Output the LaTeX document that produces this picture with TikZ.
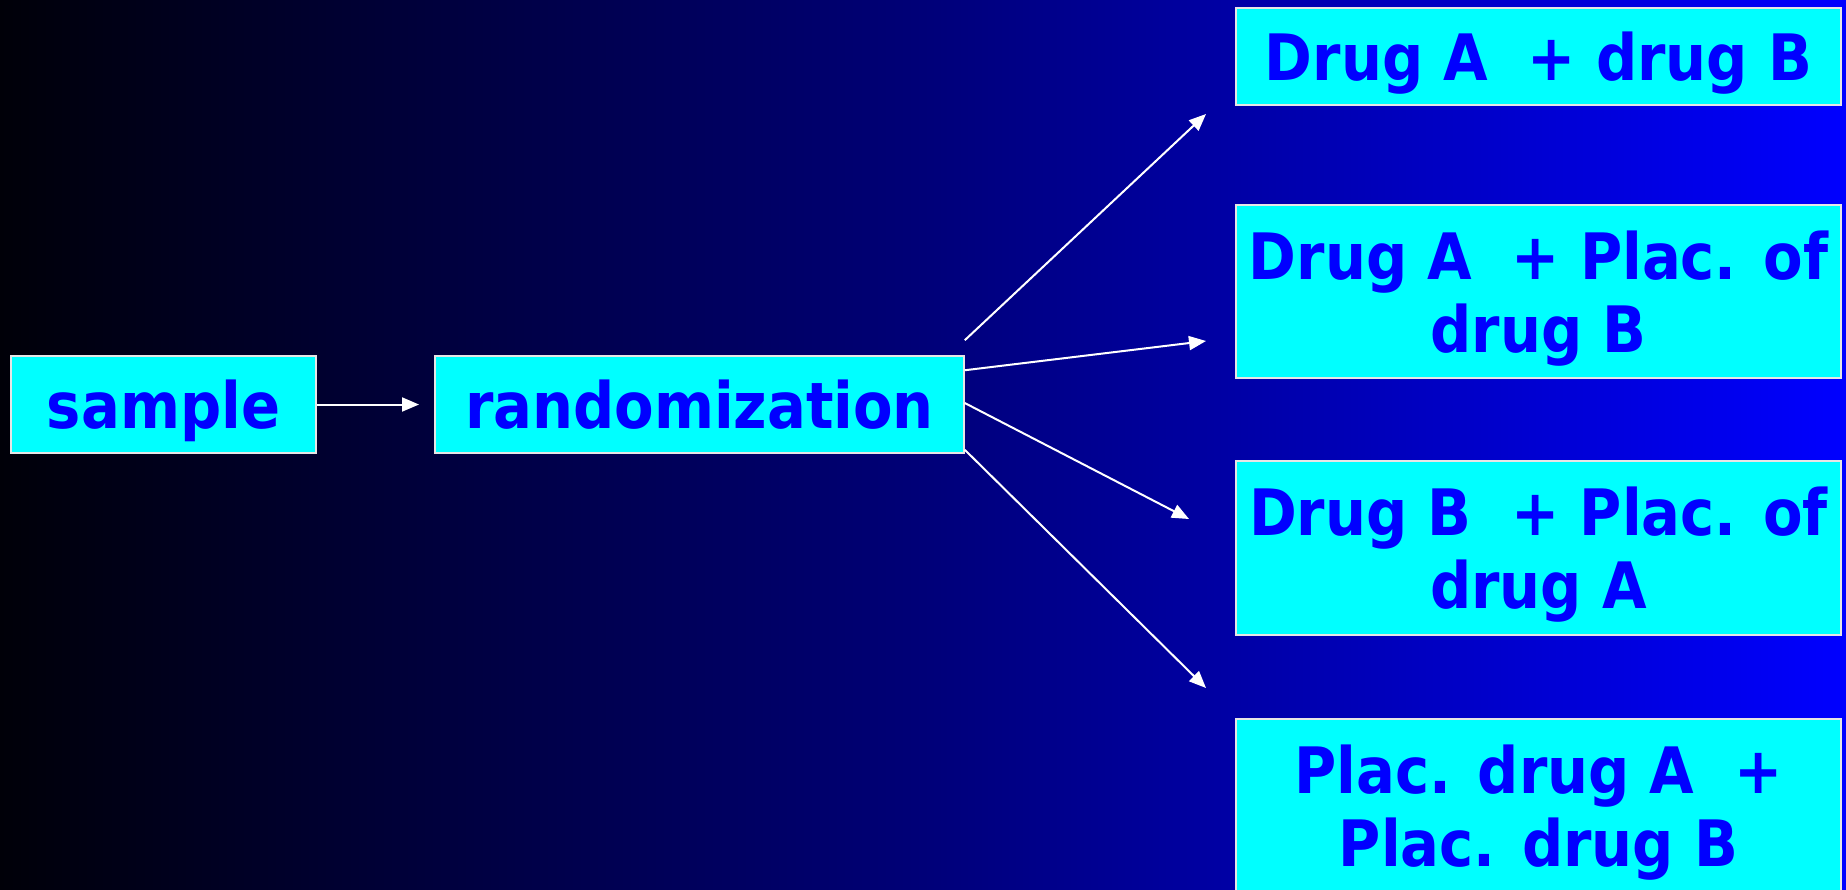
\documentclass[tikz,border=0pt]{standalone}
\usepackage{fontspec}
\setmainfont{DejaVu Sans Condensed}
\usetikzlibrary{arrows.meta}
\definecolor{bgleft}{RGB}{0,0,8}
\definecolor{bgmid}{RGB}{0,0,120}
\definecolor{bgright}{RGB}{0,0,255}
\definecolor{boxfill}{RGB}{0,255,255}
\definecolor{boxtext}{RGB}{0,0,255}
\definecolor{boxline}{RGB}{230,230,230}
\tikzset{
  stage/.style={draw=boxline, line width=1.5pt, fill=boxfill, text=boxtext,
    font=\bfseries\fontsize{64}{73}\selectfont, align=center, inner sep=0pt,
    text depth=0pt, anchor=center},
  link/.style={draw=white, line width=2pt, -{Triangle[length=17pt,width=14pt]}}
}
\begin{document}
\begin{tikzpicture}[x=1pt,y=-1pt]
\useasboundingbox (0,0) rectangle (1846,889);
\clip (0,0) rectangle (1846,889);
\shade[left color=bgleft, right color=bgright, middle color=bgmid] (0,0) rectangle (1846,889);
\node[stage, minimum width=305pt, minimum height=97pt] (sample) at (163.5,404.5) {sample};
\node[stage, minimum width=529pt, minimum height=97pt] (rand) at (699.5,404.5) {randomization};
\node[stage, minimum width=605pt, minimum height=97pt] (t1) at (1538.5,56.5) {Drug A\ \ + drug B};
\node[stage, minimum width=605pt, minimum height=173pt] (t2) at (1538.5,291.5) {Drug A\ \ + Plac. of\\drug B};
\node[stage, minimum width=605pt, minimum height=174pt] (t3) at (1538.5,548) {Drug B\ \ + Plac. of\\drug A};
\node[stage, minimum width=605pt, minimum height=173pt] (t4) at (1538.5,805.5) {Plac. drug A\ \ +\\Plac. drug B};
\coordinate (e0) at (419,404.5);
\coordinate (e1) at (1206,114);
\coordinate (e2) at (1206,341);
\coordinate (e3) at (1189,519);
\coordinate (e4) at (1206,688);
\draw[link] (sample.east) -- (e0);
\draw[link] ([yshift=15pt]rand.north east) -- (e1);
\draw[link] ([yshift=-15pt]rand.north east) -- (e2);
\draw[link] ([yshift=1.5pt]rand.east) -- (e3);
\draw[link] ([yshift=4pt]rand.south east) -- (e4);
\end{tikzpicture}
\end{document}
